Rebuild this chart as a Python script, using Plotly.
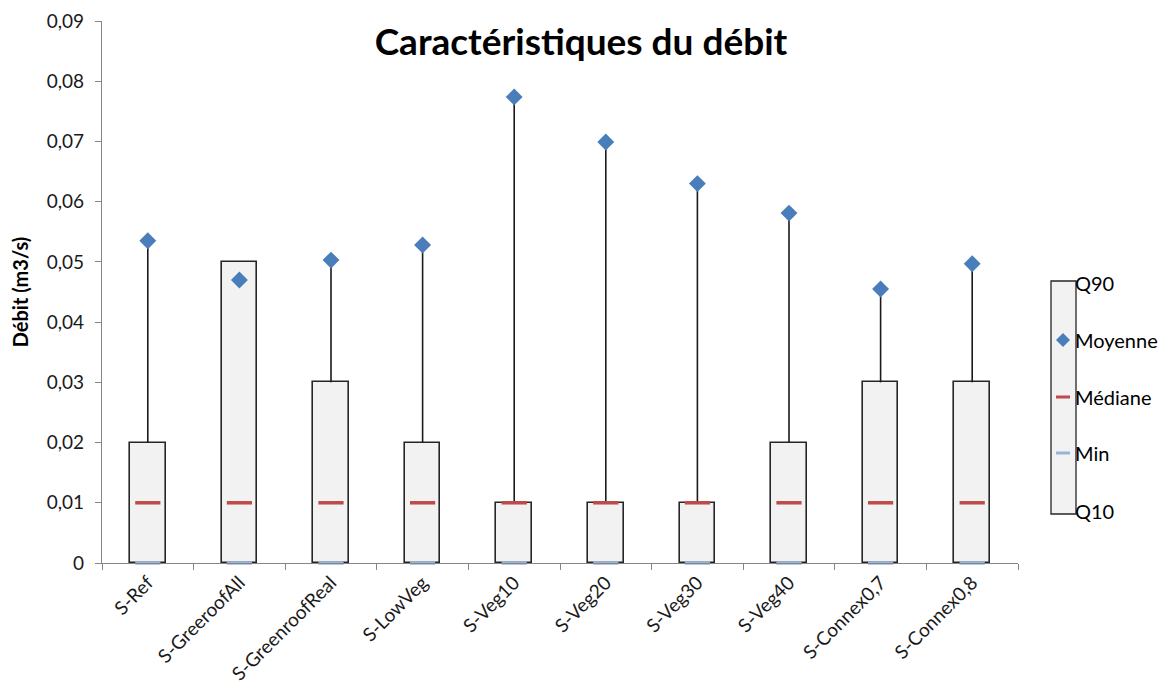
import plotly.graph_objects as go

categories = ["S-Ref", "S-GreeroofAll", "S-GreenroofReal", "S-LowVeg", "S-Veg10",
              "S-Veg20", "S-Veg30", "S-Veg40", "S-Connex0,7", "S-Connex0,8"]
q10 = [0, 0, 0, 0, 0, 0, 0, 0, 0, 0]
q90 = [0.02, 0.05, 0.03, 0.02, 0.01, 0.01, 0.01, 0.02, 0.03, 0.03]
maxi = [0.0535, 0.05, 0.0503, 0.0528, 0.0774, 0.0699, 0.0630, 0.0581, 0.0455, 0.0497]
moyenne = [0.0535, 0.0470, 0.0503, 0.0528, 0.0774, 0.0699, 0.0630, 0.0581, 0.0455, 0.0497]
mediane = [0.01] * 10
minimum = [0, 0, 0, 0, 0, 0, 0, 0, 0, 0]

ytick_vals = [0, 0.01, 0.02, 0.03, 0.04, 0.05, 0.06, 0.07, 0.08, 0.09]
ytick_text = ["0", "0,01", "0,02", "0,03", "0,04", "0,05", "0,06", "0,07", "0,08", "0,09"]

FONT = "Lato, 'Open Sans', sans-serif"
C_MEAN = "#4a7ebb"
C_MED = "#be4b48"
C_MIN = "#98b4d8"

fig = go.Figure()

# whiskers from Q90 up to max
fig.add_trace(go.Scatter(
    x=categories, y=q90, mode="markers",
    marker=dict(size=1, opacity=0),
    error_y=dict(type="data", symmetric=False,
                 array=[m - q for m, q in zip(maxi, q90)],
                 arrayminus=[0] * len(q90),
                 color="#1a1a1a", thickness=1.6, width=0),
    showlegend=False, hoverinfo="skip"))

# boxes Q10 -> Q90
fig.add_trace(go.Bar(
    x=categories, y=[b - a for a, b in zip(q10, q90)], base=q10,
    width=0.39, marker=dict(color="#f2f2f2", line=dict(color="#262626", width=1.6)),
    showlegend=False))

fig.add_trace(go.Scatter(
    x=categories, y=moyenne, mode="markers",
    marker=dict(symbol="diamond", size=13, color=C_MEAN),
    showlegend=False))
fig.add_trace(go.Scatter(
    x=categories, y=mediane, mode="markers",
    marker=dict(symbol="line-ew", size=18, line=dict(color=C_MED, width=3.5)),
    showlegend=False))
fig.add_trace(go.Scatter(
    x=categories, y=minimum, mode="markers",
    marker=dict(symbol="line-ew", size=18, line=dict(color=C_MIN, width=3.5)),
    showlegend=False, cliponaxis=False))

# page offset (body margin) compensation
OFF = 8
W, H = 1172, 699
PL, PT, PR, PB = 102, 21, 1018, 563   # target plot area in screen pixels
L, T = PL - OFF, PT - OFF
R = W - (PR - OFF)
B = H - (PB - OFF)
pw, ph = PR - PL, PB - PT

def px(x):
    return (x - PL) / pw

def py(y):
    return (PB - y) / ph

shapes = []
annotations = []
# legend rectangle
shapes.append(dict(type="rect", xref="paper", yref="paper",
                   x0=px(1051), x1=px(1076), y0=py(514), y1=py(281),
                   fillcolor="#f2f2f2", line=dict(color="#262626", width=1.3)))
# legend symbols
shapes.append(dict(type="path", xref="paper", yref="paper",
                   path=f"M {px(1063)} {py(333)} L {px(1070)} {py(340)} L {px(1063)} {py(347)} L {px(1056)} {py(340)} Z",
                   fillcolor=C_MEAN, line=dict(width=0)))
shapes.append(dict(type="line", xref="paper", yref="paper",
                   x0=px(1056), x1=px(1070), y0=py(397), y1=py(397),
                   line=dict(color=C_MED, width=3)))
shapes.append(dict(type="line", xref="paper", yref="paper",
                   x0=px(1056), x1=px(1070), y0=py(453), y1=py(453),
                   line=dict(color=C_MIN, width=3)))
for label, yy in [("Q90", 283), ("Moyenne", 340), ("Médiane", 397), ("Min", 453), ("Q10", 511)]:
    annotations.append(dict(text=label, xref="paper", yref="paper", x=px(1074), y=py(yy),
                            xanchor="left", yanchor="middle", showarrow=False, borderpad=0,
                            font=dict(family=FONT, size=20, color="#000000")))

fig.update_layout(
    width=W, height=H,
    margin=dict(l=L, r=R, t=T, b=B, autoexpand=False),
    plot_bgcolor="white", paper_bgcolor="white",
    font=dict(family=FONT, size=19, color="#000000"),
    title=dict(text="<b>Caractéristiques du débit</b>", x=(581 - OFF) / W, xanchor="center",
               y=1 - (42 - OFF) / H, yanchor="middle",
               font=dict(family=FONT, size=37, color="#000000")),
    xaxis=dict(type="category", range=[-0.5, len(categories) - 0.5],
               showline=True, linecolor="#868686", linewidth=1.3,
               ticks="outside", ticklen=6, tickcolor="#868686", tickson="boundaries",
               tickangle=-45, tickfont=dict(size=19, color="#1a1a1a"), showgrid=False,
               zeroline=False, automargin=False),
    yaxis=dict(range=[0, 0.09], tickvals=ytick_vals, ticktext=ytick_text,
               showline=True, linecolor="#868686", linewidth=1.3, ticks="outside",
               ticklen=6, tickcolor="#868686", showgrid=False, zeroline=False,
               tickfont=dict(size=19, color="#1a1a1a"), automargin=False,
               ticklabelstandoff=7,
               title=dict(text="<b>Débit (m3/s)</b>", font=dict(size=20), standoff=14)),
    shapes=shapes, annotations=annotations, bargap=0,
)

fig.write_html("out.html")
